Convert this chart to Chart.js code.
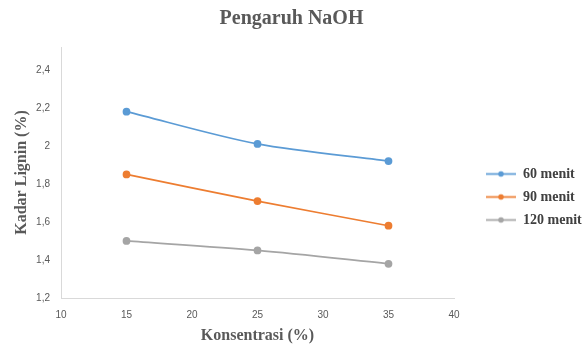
<!DOCTYPE html>
<html lang="id">
<head>
<meta charset="UTF-8" />
<title>Pengaruh NaOH</title>
<style>
  html, body { margin: 0; padding: 0; background: #fff; }
  .wrap { width: 583px; height: 353px; position: relative; }
</style>
</head>
<body>
<div class="wrap"><canvas id="chart"></canvas></div>
<script src="https://cdn.jsdelivr.net/npm/chart.js"></script>
<script>
// data
const konsentrasi = [15, 25, 35];
const menit60 = [2.18, 2.01, 1.92];
const menit90 = [1.85, 1.71, 1.58];
const menit120 = [1.50, 1.45, 1.38];
const xTicks = [10, 15, 20, 25, 30, 35, 40];
const yTicks = [1.2, 1.4, 1.6, 1.8, 2.0, 2.2, 2.4];

const serif = "'Liberation Serif', 'DejaVu Serif', serif";
const sans = "'Liberation Sans', Arial, sans-serif";

// legend marker: short line with a dot, drawn on the right part of a small canvas
function legendMark(color) {
  const c = document.createElement('canvas');
  c.width = 53; c.height = 9;
  const g = c.getContext('2d');
  g.strokeStyle = color; g.lineWidth = 1.75;
  g.beginPath(); g.moveTo(23, 4.5); g.lineTo(53, 4.5); g.stroke();
  g.fillStyle = color;
  g.beginPath(); g.arc(38, 4.5, 2.8, 0, Math.PI * 2); g.fill();
  return c;
}

function series(label, values, color) {
  return {
    label: label,
    data: konsentrasi.map((x, i) => ({ x: x, y: values[i] })),
    borderColor: color,
    backgroundColor: color,
    borderWidth: 1.75,
    pointRadius: 3,
    pointHoverRadius: 3,
    tension: 0.3,
    mark: legendMark(color)
  };
}

function fmt(v) {
  return String(Math.round(v * 10) / 10).replace('.', ',');
}

new Chart(document.getElementById('chart'), {
  type: 'line',
  data: {
    datasets: [
      series('60 menit', menit60, '#5b9bd5'),
      series('90 menit', menit90, '#ed7d31'),
      series('120 menit', menit120, '#a5a5a5')
    ]
  },
  options: {
    responsive: true,
    maintainAspectRatio: false,
    animation: false,
    layout: { padding: 0 },
    plugins: {
      title: {
        display: true,
        text: 'Pengaruh NaOH',
        color: '#595959',
        font: { family: serif, size: 20, weight: 'bold' },
        padding: { top: 7, bottom: 16 }
      },
      legend: {
        position: 'right',
        fullSize: false,
        align: 'center',
        maxWidth: 129,
        title: { display: true, text: '', font: { size: 10, lineHeight: 1 }, padding: { top: 0, bottom: 39 } },
        labels: {
          usePointStyle: true,
          pointStyleWidth: 53,
          padding: 9,
          color: '#404040',
          font: { family: serif, size: 14, weight: 'bold' },
          generateLabels(chart) {
            const items = Chart.defaults.plugins.legend.labels.generateLabels(chart);
            items.forEach(it => { it.pointStyle = chart.data.datasets[it.datasetIndex].mark; });
            return items;
          }
        }
      },
      tooltip: { enabled: false }
    },
    scales: {
      x: {
        type: 'linear',
        min: 10, max: 40,
        afterBuildTicks: s => { s.ticks = xTicks.map(v => ({ value: v })); },
        afterFit: s => { s.height = 55; },
        grid: { display: false, drawTicks: false },
        border: { display: true, color: '#d9d9d9', width: 1 },
        ticks: { color: '#595959', font: { family: sans, size: 10 }, padding: 11, maxRotation: 0 },
        title: {
          display: true,
          text: 'Konsentrasi (%)',
          color: '#595959',
          font: { family: serif, size: 16, weight: 'bold' },
          padding: { top: 0, bottom: 8 }
        }
      },
      y: {
        type: 'linear',
        min: 1.2, max: 2.52,
        afterBuildTicks: s => { s.ticks = yTicks.map(v => ({ value: v })); },
        afterFit: s => { s.width = 61; },
        grid: { display: false, drawTicks: false },
        border: { display: true, color: '#d9d9d9', width: 1 },
        ticks: { color: '#595959', font: { family: sans, size: 10 }, padding: 11, callback: v => fmt(v) },
        title: {
          display: true,
          text: 'Kadar Lignin (%)',
          color: '#595959',
          font: { family: serif, size: 16, weight: 'bold' },
          padding: { top: 12, bottom: 0 }
        }
      }
    }
  }
});
</script>
</body>
</html>
